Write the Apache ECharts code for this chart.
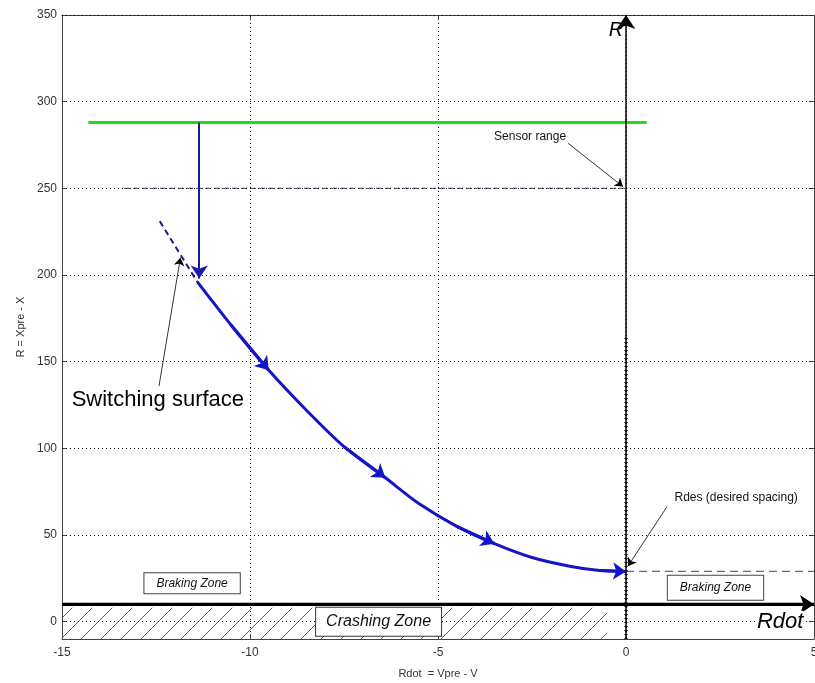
<!DOCTYPE html>
<html>
<head>
<meta charset="utf-8">
<script src="https://cdn.jsdelivr.net/npm/echarts@6/dist/echarts.min.js"></script>
<style>
  html, body { margin: 0; padding: 0; background: #fff; }
  #chart { width: 815px; height: 683px; }
</style>
</head>
<body>
<div id="chart"></div>
<script>
// trajectory in the (Rdot, R) plane
const rdot = [-11.4, -10.5, -9.5, -8.5, -7.5, -6.4, -5.5, -4.5, -3.5, -2.5, -1.5, -0.7, 0]
const range = [196, 171, 145, 122, 101, 83, 68, 55, 45, 37, 32, 29.5, 29]
const arrowIdx = [2, 5, 8, 12]

// switching surface continuation (dashed)
const surfaceRdot = [-12.4, -11.4]
const surfaceRange = [231, 196]
const desiredRdot = [0, 5]
const desiredRange = [29, 29]

// sensor range lines and the drop onto the surface
const sensorRdot = [-14.3, 0.55]
const sensorRange = [288, 288]
const detectRdot = [-13.35, 0]
const detectRange = [250, 250]
const dropRdot = [-11.35, -11.35]
const dropRange = [288, 198]

// crash line
const crashRdot = [-15, 5]
const crashRange = [10, 10]

const xTicks = [-15, -10, -5, 0, 5]
const yTicks = [0, 50, 100, 150, 200, 250, 300, 350]

const pts = (xs, ys) => xs.map((x, i) => [x, ys[i]])

const font = 'Liberation Sans, Arial, Helvetica, sans-serif'

// hatch pattern for the crashing zone
const hatch = document.createElement('canvas')
hatch.width = 20
hatch.height = 20
const hctx = hatch.getContext('2d')
hctx.strokeStyle = '#333'
hctx.lineWidth = 0.8
hctx.beginPath()
hctx.moveTo(0, 20)
hctx.lineTo(20, 0)
hctx.stroke()

const chart = echarts.init(document.getElementById('chart'))

const option = {
  animation: false,
  backgroundColor: '#fff',
  grid: { left: 62, right: 1, top: 15, bottom: 44, outerBoundsMode: 'none' },
  xAxis: [
    {
      type: 'value', min: xTicks[0], max: xTicks[xTicks.length - 1], interval: 5,
      name: 'Rdot  = Vpre - V', nameLocation: 'middle', nameGap: 29,
      nameTextStyle: { fontFamily: font, fontSize: 11, color: '#333' },
      axisLine: { onZero: false, lineStyle: { color: '#444', width: 1 } },
      axisTick: { inside: true, length: 5, lineStyle: { color: '#444' } },
      axisLabel: { fontFamily: font, fontSize: 12, color: '#333', margin: 8 },
      splitLine: { show: true, lineStyle: { type: [1, 3], color: '#000', width: 1 } }
    },
    {
      type: 'value', position: 'top', min: xTicks[0], max: xTicks[xTicks.length - 1], interval: 5,
      axisLine: { onZero: false, lineStyle: { color: '#444', width: 1 } },
      axisTick: { inside: true, length: 5, lineStyle: { color: '#444' } },
      axisLabel: { show: false },
      splitLine: { show: false }
    }
  ],
  yAxis: [
    {
      type: 'value', min: -10, max: 350,
      name: 'R = Xpre - X', nameLocation: 'middle', nameGap: 35,
      nameTextStyle: { fontFamily: font, fontSize: 11, color: '#333' },
      axisLine: { onZero: false, lineStyle: { color: '#444', width: 1 } },
      axisTick: { inside: true, length: 5, customValues: yTicks, lineStyle: { color: '#444' } },
      axisLabel: { fontFamily: font, fontSize: 12, color: '#333', margin: 5, customValues: yTicks },
      splitLine: { show: false }
    },
    {
      type: 'value', position: 'right', min: -10, max: 350,
      axisLine: { onZero: false, lineStyle: { color: '#444', width: 1 } },
      axisTick: { inside: true, length: 5, customValues: yTicks, lineStyle: { color: '#444' } },
      axisLabel: { show: false },
      splitLine: { show: false }
    }
  ],
  series: [
    {
      name: 'crash line',
      type: 'line',
      data: pts(crashRdot, crashRange),
      showSymbol: false,
      lineStyle: { color: '#000', width: 3 },
      z: 3,
      markArea: {
        silent: true,
        itemStyle: { color: { image: hatch, repeat: 'repeat' } },
        data: [[{ coord: [-15, -10] }, { coord: [-0.5, 8] }]]
      },
      // horizontal dotted grid at the R ticks
      markLine: {
        silent: true,
        symbol: 'none',
        label: { show: false },
        lineStyle: { type: [1, 3], color: '#000', width: 1 },
        data: yTicks.map(v => ({ yAxis: v }))
      }
    },
    {
      name: 'sensor range',
      type: 'line',
      data: pts(sensorRdot, sensorRange),
      showSymbol: false,
      lineStyle: { color: '#1fdc1f', width: 3 }
    },
    {
      name: 'detect',
      type: 'line',
      data: pts(detectRdot, detectRange),
      showSymbol: false,
      lineStyle: { color: '#55658f', width: 1.2, type: [6, 3] }
    },
    {
      name: 'surface',
      type: 'line',
      data: pts(surfaceRdot, surfaceRange),
      showSymbol: false,
      lineStyle: { color: '#1c1c8c', width: 2, type: [6, 4] }
    },
    {
      name: 'desired',
      type: 'line',
      data: pts(desiredRdot, desiredRange),
      showSymbol: false,
      lineStyle: { color: '#5a64a6', width: 1.2, type: [8, 5] }
    },
    {
      name: 'trajectory',
      type: 'line',
      data: pts(rdot, range),
      smooth: 0.3,
      showSymbol: false,
      lineStyle: { color: '#1515c8', width: 3 },
      z: 4
    },
    {
      // lower part of the R axis with tick marks
      name: 'R axis ticks',
      type: 'line',
      data: [[0, -10], [0, 165]],
      showSymbol: false,
      lineStyle: { color: '#333', width: 3.5, type: [1, 3] },
      z: 3
    },
    {
      name: 'trajectory arrows',
      type: 'lines',
      coordinateSystem: 'cartesian2d',
      symbol: ['none', 'arrow'],
      symbolSize: 13,
      lineStyle: { color: '#1515c8', width: 3, opacity: 1, curveness: 0 },
      data: arrowIdx.map(i => ({ coords: [[rdot[i - 1], range[i - 1]], [rdot[i], range[i]]] })),
      z: 5
    },
    {
      name: 'drop arrow',
      type: 'lines',
      coordinateSystem: 'cartesian2d',
      symbol: ['none', 'arrow'],
      symbolSize: 13,
      lineStyle: { color: '#1a1aa8', width: 2, opacity: 1, curveness: 0 },
      data: [{ coords: pts(dropRdot, dropRange) }],
      z: 5
    },
    {
      name: 'axis arrows',
      type: 'lines',
      coordinateSystem: 'cartesian2d',
      symbol: ['none', 'arrow'],
      symbolSize: 14,
      lineStyle: { color: '#000', width: 2, opacity: 1, curveness: 0 },
      data: [
        { coords: [[0, -10], [0, 350]], lineStyle: { width: 1.5 } },
        { coords: [[-15, 10], [5, 10]], lineStyle: { width: 3 } }
      ],
      z: 6
    },
    {
      name: 'note arrows',
      type: 'lines',
      coordinateSystem: 'cartesian2d',
      symbol: ['none', 'arrow'],
      symbolSize: 8,
      lineStyle: { color: '#000', width: 0.8, opacity: 1, curveness: 0 },
      data: [
        { coords: [[-1.54, 276], [-0.08, 251]] },
        { coords: [[1.09, 66.3], [0.05, 32]] },
        { coords: [[-12.42, 136], [-11.85, 210]] }
      ],
      z: 6
    },
    {
      name: 'notes',
      type: 'scatter',
      symbolSize: 0,
      silent: true,
      clip: false,
      z: 7,
      itemStyle: { opacity: 1 },
      label: {
        show: true, position: 'inside', formatter: p => p.name, opacity: 1,
        fontFamily: font, fontSize: 12, color: '#111'
      },
      data: [
        { name: 'Sensor range', value: [-2.55, 280] },
        { name: 'Rdes (desired spacing)', value: [2.93, 71.5] },
        { name: 'Switching surface', value: [-12.45, 128], label: { fontSize: 22, color: '#000' } },
        {
          name: 'Braking Zone', value: [-11.54, 22.2],
          label: { fontStyle: 'italic', backgroundColor: '#fff', borderColor: '#444', borderWidth: 1, padding: [4, 12] }
        },
        {
          name: 'Braking Zone', value: [2.38, 19.6],
          label: { fontStyle: 'italic', backgroundColor: '#fff', borderColor: '#444', borderWidth: 1, padding: [6, 12] }
        },
        {
          name: 'Crashing Zone', value: [-6.58, 0],
          label: { fontStyle: 'italic', fontSize: 16, backgroundColor: '#fff', borderColor: '#333', borderWidth: 1, padding: [6, 10] }
        },
        { name: 'Rdot', value: [4.1, 0], label: { fontStyle: 'italic', fontSize: 22, color: '#000', backgroundColor: '#fff' } },
        { name: 'R', value: [-0.27, 341], label: { fontStyle: 'italic', fontSize: 20, color: '#000' } }
      ]
    }
  ]
}

chart.setOption(option)
</script>
</body>
</html>
